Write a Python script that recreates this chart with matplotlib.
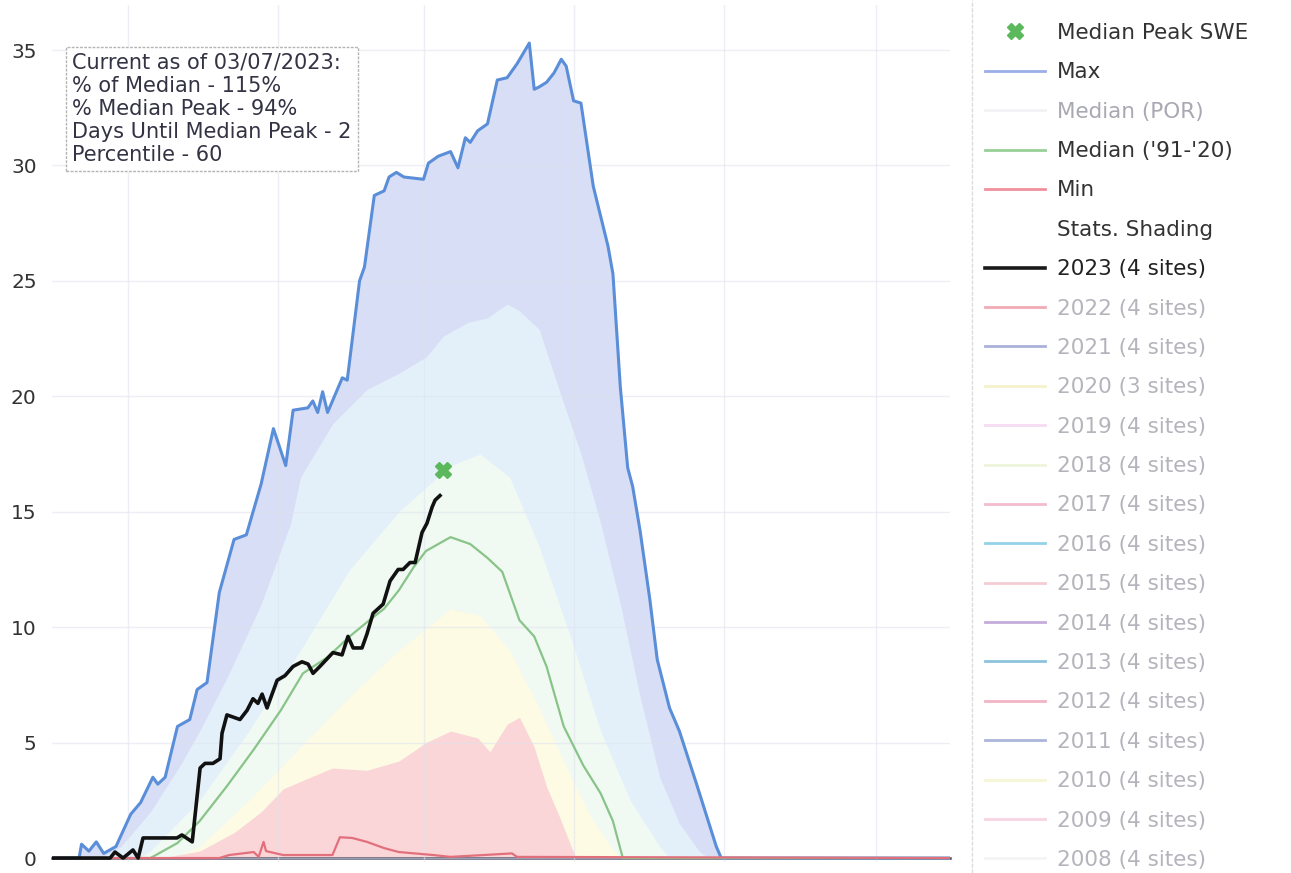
import matplotlib
matplotlib.use("Agg")
import matplotlib.pyplot as plt
from matplotlib.lines import Line2D

# day index from Oct 1 (water year), SWE in inches
max_days = [0, 11, 12, 15, 18, 21, 26, 32, 36, 41, 43, 46, 51, 56, 59, 63, 68, 74, 79, 85,
            90, 95, 98, 104, 106, 108, 110, 112, 118, 120, 125, 127, 131, 135, 137, 140,
            143, 151, 153, 157, 162, 165, 168, 170, 173, 177, 181, 185, 189, 194, 196, 198,
            201, 204, 207, 209, 212, 215, 220, 226, 228, 231, 234, 236, 239, 243, 246, 251,
            255, 262, 270, 272, 365]
max_swe = [0, 0, 0.6, 0.3, 0.7, 0.2, 0.5, 1.9, 2.4, 3.5, 3.2, 3.5, 5.7, 6.0, 7.3, 7.6, 11.5,
           13.8, 14.0, 16.2, 18.6, 17.0, 19.4, 19.5, 19.8, 19.3, 20.2, 19.3, 20.8, 20.7, 25.0,
           25.6, 28.7, 28.9, 29.5, 29.7, 29.5, 29.4, 30.1, 30.4, 30.6, 29.9, 31.2, 31.0, 31.5,
           31.8, 33.7, 33.8, 34.4, 35.3, 33.3, 33.4, 33.6, 34.0, 34.6, 34.3, 32.8, 32.7, 29.1,
           26.5, 25.3, 20.4, 16.9, 16.1, 14.2, 11.2, 8.6, 6.5, 5.5, 3.2, 0.5, 0, 0]

p90_days = [0, 20, 28, 40, 52, 60, 72, 85, 97, 101, 114, 128, 141, 152, 159, 169, 177, 185,
            190, 198, 207, 215, 223, 231, 239, 247, 255, 263, 267, 365]
p90_swe = [0, 0, 0.5, 2.0, 4.0, 5.5, 8.0, 11.0, 14.5, 16.5, 18.8, 20.3, 21.0, 21.7, 22.6, 23.2,
           23.4, 24.0, 23.7, 22.9, 20.0, 17.5, 14.5, 11.0, 7.0, 3.5, 1.5, 0.3, 0, 0]

p70_days = [0, 35, 40, 60, 80, 101, 121, 141, 162, 174, 186, 198, 211, 223, 235, 247, 251, 365]
p70_swe = [0, 0, 0.3, 2.5, 5.5, 9.0, 12.5, 15.0, 17.0, 17.5, 16.5, 13.5, 9.5, 5.5, 2.5, 0.5, 0, 0]

p30_days = [0, 48, 60, 80, 101, 121, 141, 162, 174, 186, 198, 211, 219, 227, 231, 365]
p30_swe = [0, 0, 0.5, 2.5, 4.8, 7.0, 9.0, 10.8, 10.5, 9.0, 6.5, 3.5, 1.8, 0.5, 0, 0]

p10_days = [0, 44, 60, 74, 85, 94, 105, 114, 128, 141, 152, 162, 173, 178, 185, 190, 196, 201,
            207, 211, 213, 365]
p10_swe = [0, 0, 0.3, 1.1, 2.0, 3.0, 3.5, 3.9, 3.8, 4.2, 5.0, 5.5, 5.2, 4.6, 5.8, 6.1, 4.8,
           3.1, 1.6, 0.5, 0, 0]

min_days = [0, 68, 72, 82, 84, 86, 87, 94, 114, 117, 122, 128, 135, 141, 155, 162, 187, 189, 365]
min_swe = [0, 0, 0.13, 0.26, 0.05, 0.7, 0.3, 0.13, 0.13, 0.9, 0.87, 0.7, 0.43, 0.26, 0.13,
           0.05, 0.2, 0.05, 0]

med_days = [0, 40, 51, 60, 71, 82, 93, 102, 112, 121, 129, 135, 141, 147, 152, 162, 170, 177,
            183, 190, 196, 201, 208, 216, 223, 228, 232, 365]
med_swe = [0, 0, 0.65, 1.6, 3.1, 4.7, 6.4, 8.0, 8.7, 9.6, 10.3, 10.8, 11.6, 12.6, 13.3, 13.9,
           13.6, 13.0, 12.4, 10.3, 9.6, 8.3, 5.7, 4.0, 2.8, 1.6, 0, 0]

wy2023_days = [0, 23.6, 25.6, 28.9, 32.9, 35, 37, 50.8, 52.8, 57, 60.2, 62.2, 65.4, 68.3, 69.1,
               71.1, 76.4, 79.3, 81.7, 83.7, 85.4, 87.4, 91.5, 94.7, 98, 101.6, 104.1, 106.1,
               108.9, 114.2, 117.9, 120.3, 122.4, 126, 128, 130.5, 134.6, 137.4, 140.7, 142.7,
               145.5, 147.6, 150.4, 152.4, 154.5, 155.7, 157.7]
wy2023_swe = [0, 0, 0.26, 0, 0.35, 0, 0.87, 0.87, 1.0, 0.7, 3.9, 4.1, 4.1, 4.3, 5.4, 6.2, 6.0,
              6.4, 6.9, 6.7, 7.1, 6.5, 7.7, 7.9, 8.3, 8.5, 8.4, 8.0, 8.3, 8.9, 8.8, 9.6, 9.1,
              9.1, 9.7, 10.6, 11.0, 12.0, 12.5, 12.5, 12.8, 12.8, 14.1, 14.5, 15.2, 15.5, 15.7]

peak_day = [159]
peak_swe = [16.8]

info_lines = ["Current as of 03/07/2023:", "% of Median - 115%", "% Median Peak - 94%",
              "Days Until Median Peak - 2", "Percentile - 60"]

hidden_years = ["2022 (4 sites)", "2021 (4 sites)", "2020 (3 sites)", "2019 (4 sites)",
                "2018 (4 sites)", "2017 (4 sites)", "2016 (4 sites)", "2015 (4 sites)",
                "2014 (4 sites)", "2013 (4 sites)", "2012 (4 sites)", "2011 (4 sites)",
                "2010 (4 sites)", "2009 (4 sites)", "2008 (4 sites)"]
hidden_colors = ["#f2aab4", "#aab2da", "#f6f2cc", "#f6dcf2", "#eef4da", "#f2bccc", "#94d2ea",
                 "#f6ccd4", "#c4acdc", "#8cc4dc", "#f2b4c4", "#acb6da", "#f6f6d4", "#f8d4e2",
                 "#f4f4f4"]

plt.rcParams["font.family"] = ["DejaVu Sans"]

fig = plt.figure(figsize=(12.91, 8.73), dpi=100)
ax = fig.add_axes([52 / 1291, 11.5 / 873, 898 / 1291, 856.5 / 873])

# stats shading, painted from the top band down
ax.fill_between(max_days, 0, max_swe, color="#d8def5", lw=0, zorder=1)
ax.fill_between(p90_days, 0, p90_swe, color="#e3f0fa", lw=0, zorder=1)
ax.fill_between(p70_days, 0, p70_swe, color="#f1f9f3", lw=0, zorder=1)
ax.fill_between(p30_days, 0, p30_swe, color="#fdfbe4", lw=0, zorder=1)
ax.fill_between(p10_days, 0, p10_swe, color="#fad6d8", lw=0, zorder=1)

ax.plot(max_days, max_swe, color="#5a8ed8", lw=2.2, zorder=3)
ax.plot(med_days, med_swe, color="#88c488", lw=1.6, zorder=3)
ax.plot(min_days, min_swe, color="#e2707c", lw=1.6, zorder=3)
ax.plot(wy2023_days, wy2023_swe, color="#111111", lw=2.6, zorder=4)
ax.plot(peak_day, peak_swe, ls="None", marker="X", color="#5cb85c", ms=11, zorder=5)

ax.set_xlim(0, 365)
ax.set_ylim(-0.15, 36.95)
ax.set_yticks(range(0, 36, 5))
ax.set_xticks([31, 92, 151, 212, 273, 335])
ax.set_xticklabels([])
ax.tick_params(axis="both", length=0)
ax.tick_params(axis="y", labelsize=14.5, labelcolor="#333333", pad=11)
ax.set_axisbelow(False)
ax.grid(True, color="#dfe2ee", lw=1, alpha=0.55)
for s in ax.spines.values():
    s.set_visible(False)
ax.spines["bottom"].set_visible(True)
ax.spines["bottom"].set_position(("data", 0))
ax.spines["bottom"].set_color("#4a5068")
ax.spines["bottom"].set_linewidth(1.8)

fig.text(72 / 1291, 1 - 53 / 873, "\n".join(info_lines), ha="left", va="top",
         fontsize=15, color="#333344", linespacing=1.19,
         bbox=dict(boxstyle="square,pad=0.3", fc="white", ec="#b4b4b4", lw=1,
                   ls=(0, (2, 1))))

# legend
handles = [
    Line2D([], [], ls="None", marker="X", color="#5cb85c", ms=11),
    Line2D([], [], color="#9aaee8", lw=2),
    Line2D([], [], color="#f2f2f6", lw=2),
    Line2D([], [], color="#98d098", lw=2),
    Line2D([], [], color="#f0909c", lw=2),
    Line2D([], [], color="white", lw=2, alpha=0),
    Line2D([], [], color="#1a1a1a", lw=2.6),
]
labels = ["Median Peak SWE", "Max", "Median (POR)", "Median ('91-'20)", "Min",
          "Stats. Shading", "2023 (4 sites)"]
text_colors = ["#333333", "#333333", "#a8a8b2", "#333333", "#333333", "#333333", "#222222"]
for lab, col in zip(hidden_years, hidden_colors):
    handles.append(Line2D([], [], color=col, lw=2))
    labels.append(lab)
    text_colors.append("#b4b4bc")

leg = fig.legend(handles, labels, loc="upper left", bbox_to_anchor=(985 / 1291, 1 - 23 / 873),
                 frameon=False, fontsize=15.5, handlelength=2.8, handletextpad=0.55,
                 labelspacing=0.9, borderpad=0, borderaxespad=0)
for t, c in zip(leg.get_texts(), text_colors):
    t.set_color(c)

fig.add_artist(Line2D([972 / 1291, 972 / 1291], [0, 1], transform=fig.transFigure,
                      color="#dcdce0", lw=1, ls=(0, (3, 1))))

fig.savefig("out.png", dpi=100, facecolor="white")
